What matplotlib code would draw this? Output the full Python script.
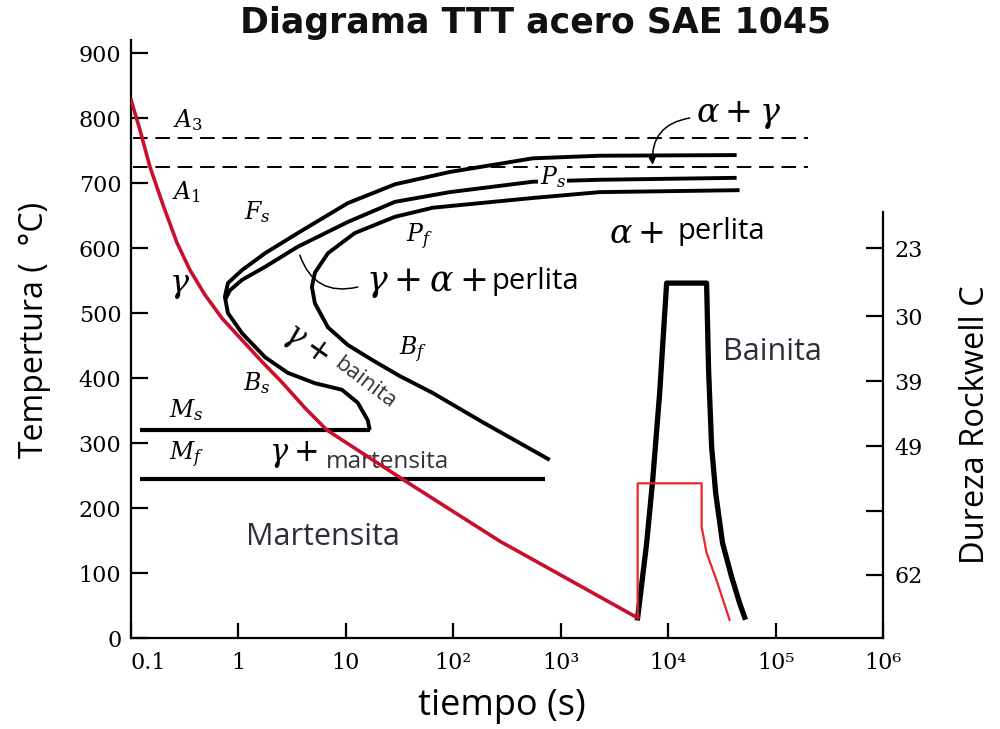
import matplotlib
matplotlib.use('Agg')
import matplotlib.pyplot as plt

plt.rcParams['mathtext.fontset'] = 'dejavuserif'

# ── data (time in s, temperature in °C) ──
# outer curve: F_s (top branch) -> nose -> B_s (bottom branch)
fs_t = [43400, 2306, 550, 92.7, 28.6, 10.4, 3.57, 1.77, 1.08, 0.798, 0.748, 0.798, 1.08,
        1.77, 2.88, 5.15, 9.18, 12.9, 16.0, 16.7]
fs_T = [743, 742, 738, 717, 698, 669, 623, 592, 566, 546, 525, 500, 469,
        432, 408, 392, 382, 362, 335, 320]
# P_s curve
ps_t = [43400, 2306, 550, 92.7, 28.6, 10.4, 3.57, 1.77, 1.08, 0.834, 0.76]
ps_T = [708, 705, 702, 686, 671, 640, 602, 571, 551, 535, 522]
# P_f (top) -> nose -> B_f (bottom)
pf_t = [46200, 2306, 550, 64.4, 28.6, 12.1, 6.81, 5.15, 4.83, 5.15, 6.81, 10.4, 17.5,
        31.8, 64.4, 188, 791]
pf_T = [689, 686, 677, 662, 648, 623, 592, 562, 540, 515, 478, 451, 428,
        403, 377, 332, 274]
# martensite start / finish
ms_t = [0.121, 16.7]
ms_T = [320, 320]
mf_t = [0.121, 710]
mf_T = [244, 244]
# critical temperatures
a3_T = 769
a1_T = 725
crit_t = [0.105, 198600]
# cooling curve (red)
cool_t = [0.1, 0.121, 0.150, 0.199, 0.268, 0.354, 0.488, 0.703, 1.10, 1.66, 2.59,
          4.16, 6.65, 16.7, 35.4, 271, 5200]
cool_T = [828, 782, 725, 666, 608, 566, 528, 492, 457, 425, 392,
          354, 320, 277, 242, 149, 31]
# hardness traces
hard_blk_t = [5200, 6310, 7180, 8340, 9680, 22800, 23800, 25400, 27700, 32100,
              39000, 46200, 51500]
hard_blk_T = [31, 146, 243, 377, 546, 546, 412, 294, 223, 146, 94, 54, 32]
hard_red_t = [5200, 5200, 20500, 20500, 22800, 28200, 37300]
hard_red_T = [31, 238, 238, 171, 131, 89, 28]
# axes ticks
x_ticks = [0.1, 1, 10, 100, 1e3, 1e4, 1e5, 1e6]
x_labels = ['0.1', '1', '10', '10²', '10³', '10⁴', '10⁵', '10⁶']
y_ticks = [0, 100, 200, 300, 400, 500, 600, 700, 800, 900]
hrc_pos = [600, 495, 395, 295, 195, 97]
hrc_labels = ['23', '30', '39', '49', '', '62']

fig = plt.figure(figsize=(10, 7.29), dpi=100)
fig.patch.set_facecolor('white')
ax = fig.add_axes([0.131, 0.1248, 0.752, 0.8203])
ax.set_xscale('log')
ax.set_xlim(0.1, 1e6)
ax.set_ylim(0, 920)

# curves
lw_c = 2.8
line_kw = dict(color='black', solid_capstyle='butt', solid_joinstyle='round', zorder=3)
ax.plot(fs_t, fs_T, lw=lw_c, **line_kw)
ax.plot(ps_t, ps_T, lw=lw_c, **line_kw)
ax.plot(pf_t, pf_T, lw=lw_c, **line_kw)
ax.plot(ms_t, ms_T, lw=3.0, **line_kw)
ax.plot(mf_t, mf_T, lw=3.0, **line_kw)
for T in (a3_T, a1_T):
    ax.plot(crit_t, [T, T], color='black', lw=1.4, dashes=(7.5, 4), zorder=2)
ax.plot(hard_blk_t, hard_blk_T, color='black', lw=3.8, solid_joinstyle='round', zorder=4)
ax.plot(hard_red_t, hard_red_T, color='#e8262c', lw=1.6, zorder=5)
ax.plot(cool_t, cool_T, color='#c8102e', lw=2.6, solid_joinstyle='round', zorder=6)

# labels inside the diagram
it = dict(fontsize=17, ha='center', va='center', color='black', zorder=7)
ax.text(0.34, 797, r'$A_3$', **it)
ax.text(0.33, 686, r'$A_1$', **it)
ax.text(1.49, 655, r'$F_s$', **it)
ax.text(843, 709, r'$P_s$', bbox=dict(facecolor='white', edgecolor='none', pad=1), **it)
ax.text(48.8, 617, r'$P_f$', **it)
ax.text(42, 443, r'$B_f$', **it)
ax.text(1.49, 392, r'$B_s$', **it)
ax.text(0.33, 351, r'$M_s$', **it)
ax.text(0.33, 282, r'$M_f$', **it)
ax.text(0.286, 543, r'$\gamma$', fontsize=23, ha='center', va='center')

sans = 'Open Sans'
ax.text(45300, 805, r'$\alpha + \gamma$', fontsize=24, ha='center', va='center')
ax.text(9270, 623, r'$\alpha +$', fontsize=24, ha='right', va='center')
ax.text(12250, 625, 'perlita', fontsize=21, ha='left', va='center', family=sans)
ax.text(205, 546, r'$\gamma + \alpha +$', fontsize=25, ha='right', va='center')
ax.text(228, 548, 'perlita', fontsize=21, ha='left', va='center', family=sans)
ax.text(4.2, 451, r'$\gamma +$', fontsize=22, ha='center', va='center', rotation=-35)
ax.text(15.0, 392, 'bainita', fontsize=16, ha='center', va='center', rotation=-37,
        family=sans, color='#333333')
ax.text(3.2, 282, r'$\gamma +$', fontsize=22, ha='center', va='center')
ax.text(24.6, 271, 'martensita', fontsize=17.5, ha='center', va='center',
        family=sans, color='#333333')
ax.text(6.1, 155, 'Martensita', fontsize=22, ha='center', va='center',
        family=sans, color='#2b2f3a')
ax.text(93800, 440, 'Bainita', fontsize=22, ha='center', va='center',
        family=sans, color='#2b2f3a')

ax.annotate('', xy=(7180, 728), xytext=(15850, 800),
            arrowprops=dict(arrowstyle='-|>', color='black', lw=1.1,
                            connectionstyle='arc3,rad=0.45', mutation_scale=10,
                            shrinkA=0, shrinkB=0))
ax.annotate('', xy=(3.73, 589), xytext=(12.9, 540),
            arrowprops=dict(arrowstyle='-', color='black', lw=1.1,
                            connectionstyle='arc3,rad=-0.45',
                            shrinkA=0, shrinkB=0))

# axes styling
ax.spines['top'].set_visible(False)
ax.spines['right'].set_visible(False)
for s in ('left', 'bottom'):
    ax.spines[s].set_linewidth(1.6)
ax.set_xticks(x_ticks)
ax.set_xticklabels(x_labels)
ax.xaxis.set_minor_locator(matplotlib.ticker.NullLocator())
ax.set_yticks(y_ticks)
ax.tick_params(axis='both', direction='in', width=1.6, labelsize=16,
               labelfontfamily='DejaVu Serif', colors='black')
ax.tick_params(axis='y', length=12, pad=7)
ax.tick_params(axis='x', length=11, pad=10)
ax.get_xticklabels()[0].set_horizontalalignment('left')

ax2 = ax.twinx()
ax2.set_ylim(0, 920)
for s in ('top', 'left', 'bottom'):
    ax2.spines[s].set_visible(False)
ax2.spines['right'].set_bounds(0, 655)
ax2.spines['right'].set_linewidth(1.6)
ax2.set_yticks(hrc_pos)
ax2.set_yticklabels(hrc_labels)
ax2.tick_params(axis='y', direction='in', length=12, width=1.6, labelsize=16,
                labelfontfamily='DejaVu Serif', pad=8)

fig.text(0.536, 1 - 23 / 729, 'Diagrama TTT acero SAE 1045', ha='center', va='center',
         fontsize=25, fontweight='bold', color='#111111')
fig.text(0.035, 1 - 330 / 729, 'Tempertura (  °C)', rotation=90, ha='center', va='center',
         fontsize=23, family=sans)
fig.text(0.975, 1 - 425 / 729, 'Dureza Rockwell C', rotation=90, ha='center', va='center',
         fontsize=23.5, family=sans)
fig.text(0.502, 1 - 706 / 729, 'tiempo (s)', ha='center', va='center',
         fontsize=26, family=sans)

fig.savefig('out.png', dpi=100, facecolor='white')
